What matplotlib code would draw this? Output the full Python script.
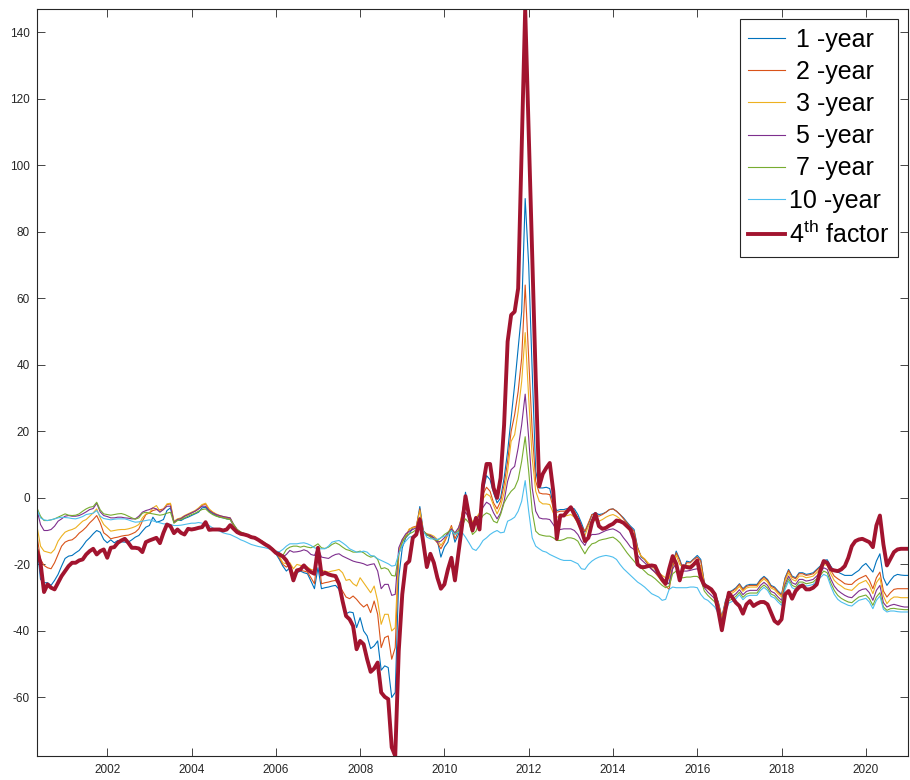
import numpy as np
import matplotlib
matplotlib.use("Agg")
import matplotlib.pyplot as plt

plt.rcParams['font.family'] = ['Liberation Sans', 'DejaVu Sans']
plt.rcParams['mathtext.fontset'] = 'custom'
plt.rcParams['mathtext.rm'] = 'Liberation Sans'
plt.rcParams['axes.unicode_minus'] = False

# Monthly observations, May 2000 .. Jan 2021
start_year = 2000 + 4 / 12

factor4 = [
    -16, -19.5, -28.3, -26, -27, -27.5, -25.5, -23.5,
    -22, -20.5, -19.5, -19.5, -18.8, -18.5, -17, -16, -15.3, -17, -16, -15.5,
    -18, -15, -14.8, -13.5, -12.8, -12.3, -13.5, -15, -15, -15.2, -16.3, -13.3,
    -12.8, -12.4, -12, -13.6, -10.5, -8, -8.5, -10.6, -9.5, -10.5, -11, -9.3,
    -9.5, -9.3, -9, -8.8, -7.3, -9.6, -9.5, -9.5, -9.5, -9.8, -9.5, -8.2,
    -9.3, -10.3, -10.8, -11, -11.3, -11.8, -12, -12.6, -13.3, -14, -14.6, -15.5,
    -16.5, -17, -17.6, -18.8, -20.8, -24.8, -21.8, -21.5, -20.3, -21.5, -22.3, -22.8,
    -15, -23, -22.5, -23, -23.3, -23.5, -25.8, -31, -35.5, -36.5, -38.5, -45.5,
    -43, -44, -48.5, -52.3, -51.3, -49.5, -58.5, -59.8, -60.5, -75, -77.6, -46,
    -29, -20, -19, -12, -11, -6.5, -13.5, -20.8, -16.8, -19.5, -24, -27.3,
    -26, -21.5, -18, -24.8, -16.5, -8.5, 0.5, -5.3, -9.8, -6, -9.5, 4,
    10.2, 10.2, 3, 0, 6, 22, 47, 55, 56, 63, 105, 147,
    110, 73, 36, 3.5, 7.2, 9, 10.5, 2, -12.3, -5.3, -5.3, -4,
    -2.8, -5, -6.8, -9.5, -13, -12, -7.5, -4.8, -8.5, -9.3, -9, -8.3,
    -7.8, -6.8, -7, -7.5, -8.5, -9.5, -12.5, -20, -20.8, -20.8, -20.5, -20.3,
    -20.5, -22.8, -24.5, -25.8, -21.3, -17.5, -19.8, -24.8, -20.5, -20.8, -21, -20,
    -18.8, -24, -26.3, -26.8, -27.5, -29, -34, -39.8, -33.8, -28.5, -30, -31.5,
    -32.5, -34.8, -32, -31, -32.5, -31.8, -31.3, -31.3, -32, -34.5, -37, -37.8,
    -36.5, -29, -28, -30.3, -28, -26.8, -26.3, -27.5, -27.5, -27, -26, -22,
    -19, -19.5, -21.5, -21.8, -22, -21.5, -20.5, -18, -14.5, -13, -12.5, -12.3,
    -12.8, -13.3, -14.8, -8.3, -5.3, -14, -20.3, -18.3, -16.3, -15.5, -15.3, -15.3,
    -15.3,
]

y1 = [
    -14.5, -24.5, -25.5, -25.5, -26.3, -24.8, -23, -20.5,
    -18.2, -17.5, -17.3, -16.5, -15.8, -14.5, -13, -12, -10.8, -9.8, -10.3, -12.5,
    -13.5, -12.6, -13.5, -12.8, -13.2, -13.3, -13.3, -12.6, -11.8, -11.3, -10, -8.8,
    -8.3, -5.8, -7.3, -7, -6.5, -3.8, -3, -7.3, -6.6, -6.8, -6.2, -5.8,
    -5.3, -4.8, -4.3, -3, -2.8, -4, -4.8, -5.3, -5.8, -6, -6.3, -6.5,
    -8.5, -10, -10.5, -10.8, -11.3, -11.8, -12.3, -12.8, -13.3, -14, -14.8, -15.8,
    -16.8, -18.5, -20.5, -22, -21, -23.3, -22.5, -22, -22.5, -22.8, -25, -27.3,
    -21, -27.3, -27, -26.8, -26.5, -26.3, -27.5, -31, -34.8, -34.3, -34.5, -39,
    -36, -40, -41.5, -45.3, -44.5, -43, -51.8, -50.5, -51, -60, -58.5, -24,
    -15, -12, -10.8, -9, -9, -2.6, -9.8, -11.3, -11.3, -12, -12.8, -17.8,
    -14.8, -13.3, -8.8, -13.3, -11, -6.8, 1.7, -4.5, -9, -6.5, -8, 2,
    6.7, 5.5, 1.5, -1.5, 0, 6, 14, 24, 34, 45, 56, 90,
    70, 38, 8, 3, 3, 3.2, 2.8, -2, -3.8, -3.5, -3.5, -3.2,
    -2.8, -3.3, -5, -7.5, -10.3, -8, -5, -4.5, -5, -4.8, -4.3, -3.5,
    -3.3, -4, -5, -6, -7.3, -8.5, -9.5, -14.8, -17.8, -18.5, -20, -21.3,
    -22.3, -23.5, -24.8, -25.3, -25.8, -20, -16, -18.5, -21.5, -19, -19.3, -18.3,
    -17.3, -18.5, -25.5, -26.5, -27.5, -28.5, -31.3, -35.8, -31, -28.3, -27.8, -27,
    -25.8, -27.3, -26.3, -26, -26, -26, -24.5, -23.6, -24.5, -26.3, -26.8, -28,
    -29, -24, -21.5, -23.5, -24, -22.5, -22.5, -23, -22.8, -22.5, -21.5, -20.5,
    -18.8, -18.6, -20.5, -22, -22.3, -22.8, -23.3, -23.3, -23.3, -22.5, -21.8, -20.5,
    -19.7, -21, -22.3, -19, -16.8, -24, -26.3, -24.8, -23.5, -23, -23.2, -23.3,
    -23.3,
]

y2 = [
    -11.3, -18.5, -20.3, -21, -21.3, -19.5, -17, -14.5,
    -13.3, -12.8, -12.6, -11.8, -10.6, -9.8, -8.8, -7.5, -6.5, -5.3, -7.5, -10.5,
    -11.3, -12.3, -12, -11.8, -11.5, -11.3, -11.2, -10.8, -10.3, -9.3, -7, -5,
    -4.5, -3.8, -3.5, -3.6, -3.3, -2, -1.8, -7.5, -6.5, -6.3, -5.5, -5,
    -4.5, -4, -3.3, -2.2, -1.8, -3.5, -4.3, -5, -5.5, -5.8, -6, -6.2,
    -8.3, -9.8, -10.5, -10.8, -11.2, -11.6, -12.1, -12.6, -13.2, -14, -14.8, -15.6,
    -16.6, -18, -20, -20.8, -20, -22.8, -21.5, -21.8, -22, -22.3, -24, -25.8,
    -16, -25.8, -25.5, -25.3, -25, -24.8, -26.3, -28, -29.8, -30.3, -29.5, -30.5,
    -31.8, -32.8, -32, -34.5, -31, -35, -45, -42, -41.5, -48.5, -45, -17,
    -13, -11.8, -9.5, -8.8, -8.5, -3.3, -10.5, -10.8, -11.5, -12.3, -13.5, -15.3,
    -13.3, -11, -8.3, -12.3, -10, -4.8, 0.7, -4.8, -8, -6.5, -5, 1.2,
    3.2, 2, -1.5, -3.3, -1, 4, 11, 20, 25, 32, 42, 64,
    42, 20, 5, 1.5, 1.2, 1.2, 1, -3, -4.3, -4, -4, -3.8,
    -3.5, -4, -6, -8.5, -10, -7.5, -5, -5, -5.5, -5, -4.3, -3.5,
    -3.3, -4, -5, -6.3, -7.5, -9, -10, -15, -17.5, -18.5, -20, -21.3,
    -22.5, -23.8, -25.3, -26.5, -27.5, -21, -16.5, -18.8, -22, -19.5, -19.5, -18.5,
    -17.8, -19, -25.5, -26.8, -27.8, -28.8, -31.5, -36, -31.3, -28.6, -28, -27.3,
    -26, -27.6, -26.6, -26.3, -26.3, -26.3, -24.8, -23.9, -24.8, -26.6, -27.1, -28.3,
    -29.3, -24.3, -21.8, -23.8, -24.3, -22.8, -22.8, -23.3, -23.1, -22.8, -21.8, -20.8,
    -19.3, -19.5, -21.8, -23.5, -24.3, -25, -25.8, -26, -26, -25, -24.3, -23.8,
    -23.3, -24.8, -27.3, -24, -22.3, -28, -29.8, -28.5, -27.5, -27.3, -27.3, -27.3,
    -27.3,
]

y3 = [
    -8.5, -14.5, -16, -16.3, -16.6, -15.5, -13, -11.5,
    -10.3, -9.8, -9.5, -9, -8, -7, -6.5, -5.5, -4.5, -3.3, -6, -8,
    -9, -10, -9.8, -9.6, -9.5, -9.5, -9.3, -9, -8.6, -8, -6, -4.8,
    -4.5, -3, -2.3, -4, -3.5, -1.8, -1.6, -7, -6.3, -6, -5.3, -4.8,
    -4.3, -3.8, -3, -2, -1.6, -3.3, -4.2, -4.8, -5.3, -5.6, -5.8, -6,
    -8.2, -9.7, -10.4, -10.7, -11.1, -11.5, -12, -12.5, -13.1, -13.9, -14.7, -15.5,
    -16.5, -17.5, -19.5, -19.8, -19.5, -21.3, -20, -20.3, -20.3, -20.8, -21.5, -21.8,
    -14.8, -21.8, -22, -22.3, -22, -21.8, -21.5, -22.5, -24.8, -24.5, -25.8, -26.5,
    -24, -25.5, -27, -28.5, -26.5, -31, -38, -35, -35, -40, -39, -16,
    -12.5, -11.3, -9.3, -9, -8.8, -3.8, -10, -10.8, -11, -11.5, -12.5, -14.3,
    -12.8, -10.5, -8.8, -11, -9, -5.5, -1.3, -4.5, -7.3, -6, -4.5, -0.3,
    1.2, 0.5, -2.3, -4.8, -2.5, 1.5, 8, 17, 19, 26, 35, 49.7,
    30, 12, 2, -1, -1.8, -1.8, -2, -4.5, -5.8, -5.5, -5.5, -5.3,
    -5, -5.8, -7.8, -10, -11.3, -8.5, -6.5, -6.8, -7, -6.5, -5.8, -5.3,
    -5, -5.5, -6.3, -7.5, -8.8, -10.3, -11.5, -15.5, -17.5, -18.3, -19.5, -20.5,
    -21.5, -22.5, -23.3, -24, -24.3, -19, -17.3, -20, -21, -20.3, -20.3, -19.8,
    -19.3, -20.5, -26, -27.3, -28.3, -29.3, -32, -36.5, -31.8, -29.1, -28.6, -27.8,
    -26.6, -28.1, -27.1, -26.8, -26.8, -26.8, -25.3, -24.4, -25.3, -27.1, -27.6, -28.8,
    -29.8, -25, -22.5, -24.5, -25, -23.5, -23.5, -24, -23.8, -23.5, -22.5, -21.5,
    -20, -20.3, -22.8, -24.8, -25.8, -26.5, -27.3, -27.6, -27.8, -26.8, -25.8, -25.3,
    -24.8, -26.3, -28.8, -25.5, -24, -29.5, -31.8, -30.5, -29.8, -29.8, -30, -30,
    -30,
]

y5 = [
    -3.6, -8, -9.8, -9.8, -9.5, -8.5, -7, -6.3,
    -5.5, -5.3, -5.5, -5.5, -5.3, -4.8, -4.2, -3.5, -3.2, -1.6, -4.2, -5.3,
    -5.6, -6, -6, -5.8, -5.8, -6, -6.1, -6.3, -6.3, -5.5, -4.3, -3.8,
    -3.5, -3, -3.3, -4.3, -3.5, -2.5, -2.5, -7.3, -6.5, -6.2, -5.5, -5,
    -4.5, -4, -3.3, -2.5, -2.5, -3.8, -4.5, -5, -5.3, -5.6, -5.8, -6,
    -8, -9.5, -10.3, -10.8, -11.2, -11.6, -12, -12.5, -13, -13.8, -14.6, -15.3,
    -16.2, -16.5, -17.8, -17, -15.8, -16.3, -16.2, -16, -15.6, -16, -17, -17.3,
    -15, -17.8, -18, -18.2, -17.5, -17, -16.8, -17.5, -18, -18.5, -19, -19.3,
    -19.5, -19.8, -20.3, -20, -19.8, -22, -27.3, -26, -26, -29.3, -29, -15,
    -12.5, -10.8, -10, -9.5, -9, -5.8, -10, -11, -11.3, -12, -13.3, -13,
    -12, -10.5, -9.3, -10.5, -9, -6, -4.3, -6, -7.8, -7, -5, -2.8,
    -1.3, -2, -4.5, -6.3, -4.5, -1, 5, 8.5, 9.5, 15, 22, 31.2,
    18, 3, -4, -6, -6.3, -6.3, -6.5, -8, -9.8, -9.5, -9.3, -9.3,
    -9.3, -9.8, -11, -13, -14.3, -12, -11, -11, -10.8, -10.3, -9.8, -9.5,
    -9.3, -9.8, -10.5, -12, -13.3, -14.8, -15.5, -17.3, -18.5, -19.5, -20.5, -21.5,
    -22.3, -23.3, -24.3, -25.5, -25.8, -21.3, -19.8, -22.5, -22, -22, -21.8, -21.5,
    -21.3, -22.5, -27, -28.3, -29.3, -30.3, -33, -37, -32.8, -30.1, -29.6, -28.8,
    -27.6, -29.1, -28.1, -27.8, -27.8, -27.8, -26.3, -25.4, -26.3, -28.1, -28.6, -29.8,
    -30.8, -26, -23.5, -25.5, -26, -24.5, -24.5, -25, -24.8, -24.5, -23.5, -22.5,
    -21, -21.5, -24.3, -26.5, -27.8, -28.6, -29.3, -29.8, -30, -29, -28, -27.5,
    -27.3, -28.5, -30.8, -27.8, -26.3, -31.5, -32.8, -32.3, -32, -32.3, -32.6, -32.8,
    -32.8,
]

y7 = [
    -3, -5.5, -6.8, -6.8, -6.6, -6.3, -5.8, -5.3,
    -4.8, -5.2, -5.3, -5.2, -4.8, -4, -3.3, -2.8, -2.6, -1.3, -3.6, -4.8,
    -5, -5.2, -5, -4.8, -4.7, -5, -5.5, -6, -6.4, -6, -4.6, -4.3,
    -4.6, -4.8, -5, -5.2, -5, -4.6, -4.3, -7.6, -6.8, -6.5, -6, -5.5,
    -5, -4.6, -4, -3.5, -3.3, -4.3, -5, -5.5, -5.8, -6, -6.3, -6.5,
    -8, -9.5, -10.2, -10.7, -11.1, -11.5, -12, -12.4, -12.9, -13.6, -14.4, -15.1,
    -16, -16.5, -17.3, -15.5, -14.8, -14.5, -14.5, -14.8, -14.5, -14.8, -15, -14.5,
    -13.8, -15, -15.2, -14.8, -14, -13.5, -14, -14.8, -15.5, -15.8, -16.3, -16.3,
    -16, -16.5, -17.3, -17.8, -17.5, -18.5, -21.3, -21, -21.5, -23.3, -23.5, -17,
    -13.5, -11.5, -10.8, -10.3, -9.5, -7.8, -10, -11, -11.8, -12.5, -12.8, -12,
    -11, -10.3, -9.8, -10.8, -10, -8.5, -6.3, -7.5, -11, -10, -7, -5.3,
    -4.5, -5, -7, -7.5, -5, -1.5, 0.5, 2, 3, 5.5, 11, 18.4,
    8, -4, -10, -11, -11.3, -11.5, -11.5, -12, -12.8, -12.8, -12.5, -12,
    -12, -12.3, -13, -15, -16.8, -15, -13.8, -13.5, -12.8, -12.5, -12.3, -12,
    -11.8, -12.5, -13.5, -15, -16.5, -17.8, -19, -20.3, -21, -22, -23, -23.5,
    -24.3, -25.3, -26.3, -27, -26.5, -22.8, -22, -24, -24, -23.8, -23.8, -23.6,
    -23.6, -24.5, -28, -29.3, -30.3, -31.3, -33.8, -37.5, -33.6, -30.9, -30.4, -29.6,
    -28.4, -29.9, -28.9, -28.6, -28.6, -28.6, -27.1, -26.2, -27.1, -28.9, -29.4, -30.6,
    -31.6, -26.8, -24.3, -26.3, -26.8, -25.3, -25.3, -25.8, -25.6, -25.3, -24.3, -23.3,
    -22, -22.5, -25.5, -27.8, -29.3, -30.2, -30.8, -31.3, -31.5, -30.6, -29.8, -29.5,
    -29.2, -30.3, -32.3, -29.8, -28.5, -32.8, -33.8, -33.3, -33.2, -33.4, -33.5, -33.6,
    -33.6,
]

y10 = [
    -3.5, -6, -6.6, -6.8, -6.6, -6.3, -6, -5.8,
    -5.9, -6, -6.2, -6.3, -6, -5.6, -5, -4.8, -4.6, -3.8, -5.5, -6.2,
    -6.4, -6.6, -6.4, -6.3, -6.3, -6.3, -6.6, -7, -7.3, -7.2, -7, -6.8,
    -6.6, -6.9, -7.2, -7.5, -7.8, -7.8, -8, -8.3, -8.3, -8.2, -8, -7.8,
    -7.6, -7.6, -7.4, -7.6, -7.8, -8.3, -9, -9.6, -10, -10.5, -10.8, -11,
    -11.5, -12, -12.6, -13, -13.5, -14, -14.3, -14.6, -14.8, -15, -15.3, -15.6,
    -16, -16.2, -15.5, -14.5, -13.8, -13.8, -13.8, -13.6, -13.5, -13.8, -14.3, -15,
    -15.3, -15.3, -15.3, -14.5, -13.3, -13, -12.8, -13.5, -14.3, -15.3, -15.8, -16.3,
    -16.3, -16, -16.3, -17.3, -17.5, -18.3, -18.8, -19.3, -19.8, -20.5, -20.3, -16.8,
    -14.3, -13, -11.8, -11.5, -11, -7.8, -10, -11.8, -12.3, -12.3, -12.5, -12,
    -11.5, -11.3, -9.8, -11, -10.3, -10.3, -11.8, -13.5, -15.3, -15.8, -14.5, -12.8,
    -12, -11, -10.3, -9.8, -10.5, -10.3, -7, -6.5, -5.8, -4, -1, 5.2,
    -4, -12, -14.5, -15.3, -16, -16.3, -17, -17.5, -18, -18.5, -18.8, -18.8,
    -18.8, -19.3, -19.8, -21.3, -21.5, -20, -19, -18.3, -17.8, -17.5, -17.3, -17.5,
    -17.8, -18.5, -20, -21.3, -22.3, -23.3, -24.3, -25.3, -26, -26.8, -27.8, -28.8,
    -29.3, -29.8, -30.8, -30.5, -27.5, -26.8, -27, -27, -27, -27, -26.8, -26.8,
    -27, -29, -30.3, -30.8, -31.8, -32.8, -34.8, -38, -34.3, -31.6, -31.1, -30.3,
    -29.1, -30.6, -29.6, -29.3, -29.3, -29.3, -27.8, -26.9, -27.8, -29.6, -30.1, -31.3,
    -32.3, -27.5, -25, -27, -27.5, -26, -26, -26.5, -26.3, -26, -25, -24,
    -23, -23.5, -26.5, -29, -30.5, -31.3, -31.8, -32.3, -32.5, -31.6, -30.8, -30.5,
    -30.2, -31.3, -33.3, -30.8, -29.5, -33.5, -34.3, -34, -34, -34.2, -34.3, -34.3,
    -34.3,
]

maturities = [" 1 -year", " 2 -year", " 3 -year", " 5 -year", " 7 -year", "10 -year"]
thin_series = [y1, y2, y3, y5, y7, y10]
thin_colors = ["#0072BD", "#D95319", "#EDB120", "#7E2F8E", "#77AC30", "#4DBEEE"]
factor_color = "#A2142F"
factor_label = "4$^{\\mathrm{th}}$ factor"


def month_axis(values):
    return start_year + np.arange(len(values)) / 12.0


fig = plt.figure(figsize=(9.1, 7.8), dpi=100)
ax = fig.add_axes([37 / 910, 1 - 756 / 780, (908 - 37) / 910, (756 - 9) / 780])

for vals, lab, col in zip(thin_series, maturities, thin_colors):
    ax.plot(month_axis(vals), vals, color=col, lw=0.8, label=lab)
ax.plot(month_axis(factor4), factor4, color=factor_color, lw=2.8, label=factor_label)

t = month_axis(factor4)
ax.set_xlim(t[0], t[-1])
ax.set_ylim(min(factor4), max(factor4))
ax.set_xticks(np.arange(2002, 2021, 2))
ax.set_yticks(np.arange(-60, 141, 20))

axcol = "#262626"
for s in ax.spines.values():
    s.set_color(axcol)
    s.set_linewidth(0.8)
ax.tick_params(direction="in", top=True, right=True, length=6, width=0.6,
               colors=axcol, labelsize=8.5)
ax.tick_params(axis="y", pad=5)
ax.tick_params(axis="x", pad=6)

leg = ax.legend(loc="upper right", bbox_to_anchor=((898 - 37) / (908 - 37), (756 - 19) / (756 - 9)),
                borderaxespad=0, fontsize=18, handlelength=1.48, handletextpad=0.14,
                borderpad=0.34, labelspacing=0.33, fancybox=False, framealpha=1)
leg.get_frame().set_edgecolor(axcol)
leg.get_frame().set_linewidth(0.8)

fig.savefig("out.png", dpi=100)
